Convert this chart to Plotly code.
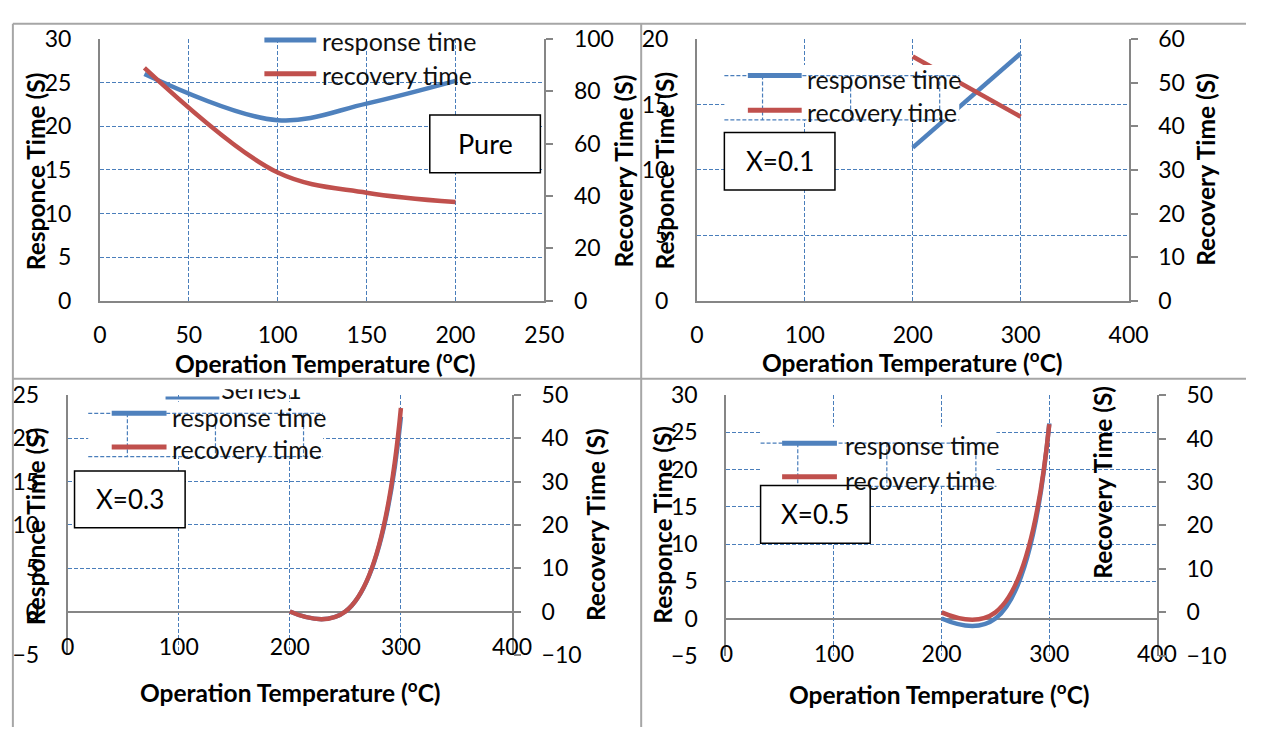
import plotly.graph_objects as go

W, H = 1266, 740

# ---------------- data ----------------
temp_pure = [25, 100, 150, 200]
resp_pure = [26.0, 20.7, 22.6, 25.2]
reco_pure = [89.0, 49.0, 41.3, 37.7]

temp_x01 = [200, 300]
resp_x01 = [11.7, 18.9]
reco_x01 = [56.0, 42.2]

temp_x03 = [200, 250, 300]
resp_x03 = [0.0, 0.0, 22.5]
reco_x03 = [0.0, 0.0, 47.0]

temp_x05 = [200, 250, 300]
resp_x05 = [0.0, 0.0, 26.2]
reco_x05 = [0.0, 0.0, 43.3]

sample_names = ["Pure", "X=0.1", "X=0.3", "X=0.5"]
series_names = ["response time", "recovery time"]

BLUE = "#4f81bd"
RED = "#c0504d"
GRID = "#4a7ebb"
AXIS = "#868686"
BORDER = "#a6a6a6"
FONT = "Lato"
DASH = "4px,2px"


def fx(p):
    return p / W


def fy(p):
    return 1 - p / H


# geometry of each panel, in pixels
panels = [
    dict(temp=temp_pure, resp=resp_pure, reco=reco_pure, smooth=1.0,
         plot=(95, 549, 25, 297), xrange=[0, 250], xdtick=50,
         lrange=[0, 30], ldtick=5, rrange=[0, 100], rdtick=20,
         on_zero=False, xstand=13,
         ltitle=(29, 162), rtitle=(630, 162), xtitle=(325, 361),
         tag_box=(432, 545, 104, 164),
         legend=dict(box=None, sx=(263, 316), sy=(26, 61), tx=320, ty=(27, 62))),
    dict(temp=temp_x01, resp=resp_x01, reco=reco_x01, smooth=1.0,
         plot=(705, 1146, 25, 297), xrange=[0, 400], xdtick=100,
         lrange=[0, 20], ldtick=5, rrange=[0, 60], rdtick=10,
         on_zero=False, xstand=13,
         ltitle=(672, 162), rtitle=(1225, 160), xtitle=(925, 360),
         tag_box=(733, 846, 122, 182),
         legend=dict(box=(733, 973, 52, 109), sx=(757, 812), sy=(63, 99), tx=815, ty=(66, 101),
                     hl=(63, 109), vl=(772, 862, 953))),
    dict(temp=temp_x03, resp=resp_x03, reco=reco_x03, smooth=1.3,
         plot=(62, 516, 395, 665), xrange=[0, 400], xdtick=100,
         lrange=[-5, 25], ldtick=5, rrange=[-10, 50], rdtick=10,
         on_zero=True, xstand=-24,
         ltitle=(30, 531), rtitle=(602, 530), xtitle=(290, 703),
         tag_box=(69, 182, 474, 533),
         legend=dict(box=(83, 323, 402, 460), sx=(107, 163), sy=(414, 449), tx=167, ty=(418, 451),
                     hl=(414, 459), vl=(123, 213, 303))),
    dict(temp=temp_x05, resp=resp_x05, reco=reco_x05, smooth=1.3,
         plot=(735, 1175, 395, 666), xrange=[0, 400], xdtick=100,
         lrange=[-5, 30], ldtick=5, rrange=[-10, 50], rdtick=10,
         on_zero=True, xstand=-18,
         ltitle=(670, 530), rtitle=(1119, 486), xtitle=(953, 705),
         tag_box=(770, 882, 489, 549),
         legend=dict(box=(770, 1011, 428, 490), sx=(792, 848), sy=(445, 480), tx=854, ty=(447, 483),
                     hl=(445, 490), vl=(808, 899, 990))),
]

tickfont = dict(family=FONT, size=23, color="#000000")
titlefont = dict(family=FONT, size=24.5, color="#000000")
legfont = dict(family=FONT, size=25, color="#111111")

fig = go.Figure()
layout = {}
shapes = []
annotations = []

for i, p in enumerate(panels):
    n = i + 1
    xname = "xaxis" if n == 1 else f"xaxis{n}"
    xref = "x" if n == 1 else f"x{n}"
    lname = "yaxis" if n == 1 else f"yaxis{2 * n - 1}"
    lref = "y" if n == 1 else f"y{2 * n - 1}"
    rname = f"yaxis{2 * n}"
    rref = f"y{2 * n}"
    x0, x1, y0, y1 = p["plot"]

    layout[xname] = dict(
        domain=[fx(x0), fx(x1)], anchor=lref, range=p["xrange"],
        tickmode="linear", tick0=0, dtick=p["xdtick"],
        showgrid=True, gridcolor=GRID, gridwidth=1.3, griddash=DASH,
        zeroline=False, showline=not p["on_zero"], linecolor=AXIS, linewidth=2,
        ticks="", tickfont=tickfont, ticklabelstandoff=p["xstand"], fixedrange=True,
    )
    layout[lname] = dict(
        domain=[fy(y1), fy(y0)], anchor=xref, range=p["lrange"],
        tickmode="linear", tick0=0, dtick=p["ldtick"],
        showgrid=True, gridcolor=GRID, gridwidth=1.3, griddash=DASH,
        zeroline=p["on_zero"], zerolinecolor=AXIS, zerolinewidth=2,
        showline=True, linecolor=AXIS, linewidth=2,
        ticks="", tickfont=tickfont, ticklabelstandoff=22, fixedrange=True,
    )
    layout[rname] = dict(
        overlaying=lref, side="right", anchor=xref, range=p["rrange"],
        tickmode="linear", tick0=0, dtick=p["rdtick"],
        showgrid=False, zeroline=False,
        showline=True, linecolor=AXIS, linewidth=2,
        ticks="outside", ticklen=7, tickwidth=2, tickcolor=AXIS,
        tickfont=tickfont, ticklabelstandoff=16, fixedrange=True,
    )

    fig.add_trace(go.Scatter(
        x=p["temp"], y=p["resp"], xaxis=xref, yaxis=lref, mode="lines",
        name=series_names[0],
        line=dict(color=BLUE, width=4.5, shape="spline", smoothing=p["smooth"]),
    ))
    fig.add_trace(go.Scatter(
        x=p["temp"], y=p["reco"], xaxis=xref, yaxis=rref, mode="lines",
        name=series_names[1],
        line=dict(color=RED, width=4.5, shape="spline", smoothing=p["smooth"]),
    ))

    # axis titles
    lx, ly = p["ltitle"]
    annotations.append(dict(text="<b>Responce Time (S)</b>", x=fx(lx), y=fy(ly), xref="paper", yref="paper",
                            textangle=-90, showarrow=False, font=titlefont,
                            xanchor="center", yanchor="middle"))
    rx, ry = p["rtitle"]
    annotations.append(dict(text="<b>Recovery Time (S)</b>", x=fx(rx), y=fy(ry), xref="paper", yref="paper",
                            textangle=-90, showarrow=False, font=titlefont,
                            xanchor="center", yanchor="middle"))
    tx, ty = p["xtitle"]
    annotations.append(dict(text="<b>Operation Temperature (<sup>o</sup>C)</b>", x=fx(tx), y=fy(ty),
                            xref="paper", yref="paper", showarrow=False, font=titlefont,
                            xanchor="center", yanchor="middle"))

    # legend block
    lg = p["legend"]
    if lg["box"] is not None:
        bx0, bx1, by0, by1 = lg["box"]
        shapes.append(dict(type="rect", xref="paper", yref="paper", layer="above",
                           x0=fx(bx0), x1=fx(bx1), y0=fy(by1), y1=fy(by0),
                           fillcolor="white", line=dict(width=0)))
        for hy in lg["hl"]:
            shapes.append(dict(type="line", xref="paper", yref="paper", layer="above",
                               x0=fx(bx0), x1=fx(bx1), y0=fy(hy), y1=fy(hy),
                               line=dict(color=GRID, width=1.2, dash=DASH)))
        for vx in lg["vl"]:
            shapes.append(dict(type="line", xref="paper", yref="paper", layer="above",
                               x0=fx(vx), x1=fx(vx), y0=fy(lg["hl"][0]), y1=fy(lg["hl"][1]),
                               line=dict(color=GRID, width=1.2, dash=DASH)))
    for k, col in enumerate([BLUE, RED]):
        shapes.append(dict(type="line", xref="paper", yref="paper", layer="above",
                           x0=fx(lg["sx"][0]), x1=fx(lg["sx"][1]), y0=fy(lg["sy"][k]), y1=fy(lg["sy"][k]),
                           line=dict(color=col, width=5)))
        annotations.append(dict(text=series_names[k], x=fx(lg["tx"]), y=fy(lg["ty"][k]),
                                xref="paper", yref="paper", showarrow=False, font=legfont,
                                xanchor="left", yanchor="middle"))

    # sample tag box
    bx0, bx1, by0, by1 = p["tag_box"]
    shapes.append(dict(type="rect", xref="paper", yref="paper", layer="above",
                       x0=fx(bx0), x1=fx(bx1), y0=fy(by1), y1=fy(by0),
                       fillcolor="white", line=dict(color="#000000", width=1.5)))
    annotations.append(dict(text=sample_names[i], x=fx((bx0 + bx1) / 2), y=fy((by0 + by1) / 2),
                            xref="paper", yref="paper", showarrow=False,
                            font=dict(family=FONT, size=27 if i == 0 else 26, color="#000000"),
                            xanchor="center", yanchor="middle"))

# leftover "Series1" entry peeking above the X=0.3 legend (clipped by its own small frame)
layout["xaxis5"] = dict(domain=[fx(150), fx(340)], range=[0, 1], visible=False, anchor="y9", fixedrange=True)
layout["yaxis9"] = dict(domain=[fy(412), fy(389)], range=[0, 1], visible=False, anchor="x5", fixedrange=True)
fig.add_trace(go.Scatter(
    x=[(219 - 150) / 190], y=[(412 - 393) / 23], mode="text", text=["Series1"],
    textposition="middle right", textfont=legfont, xaxis="x5", yaxis="y9",
    cliponaxis=True, hoverinfo="skip", name="Series1",
))
shapes.append(dict(type="line", xref="paper", yref="paper", layer="above",
                   x0=fx(162), x1=fx(217), y0=fy(398), y1=fy(398),
                   line=dict(color=BLUE, width=3)))

# table cell borders
for (a, b, c, d) in [(6, 1266, 9, 9), (6, 1266, 378, 378), (6, 6, 9, 740), (648, 648, 9, 740)]:
    shapes.append(dict(type="line", xref="paper", yref="paper", layer="above",
                       x0=fx(a), x1=fx(b), y0=fy(c), y1=fy(d),
                       line=dict(color=BORDER, width=2)))

fig.update_layout(
    width=W, height=H, autosize=False, margin=dict(l=0, r=0, t=0, b=0),
    paper_bgcolor="white", plot_bgcolor="rgba(0,0,0,0)",
    showlegend=False, shapes=shapes, annotations=annotations,
    font=dict(family=FONT), **layout,
)

fig.write_html("out.html")
